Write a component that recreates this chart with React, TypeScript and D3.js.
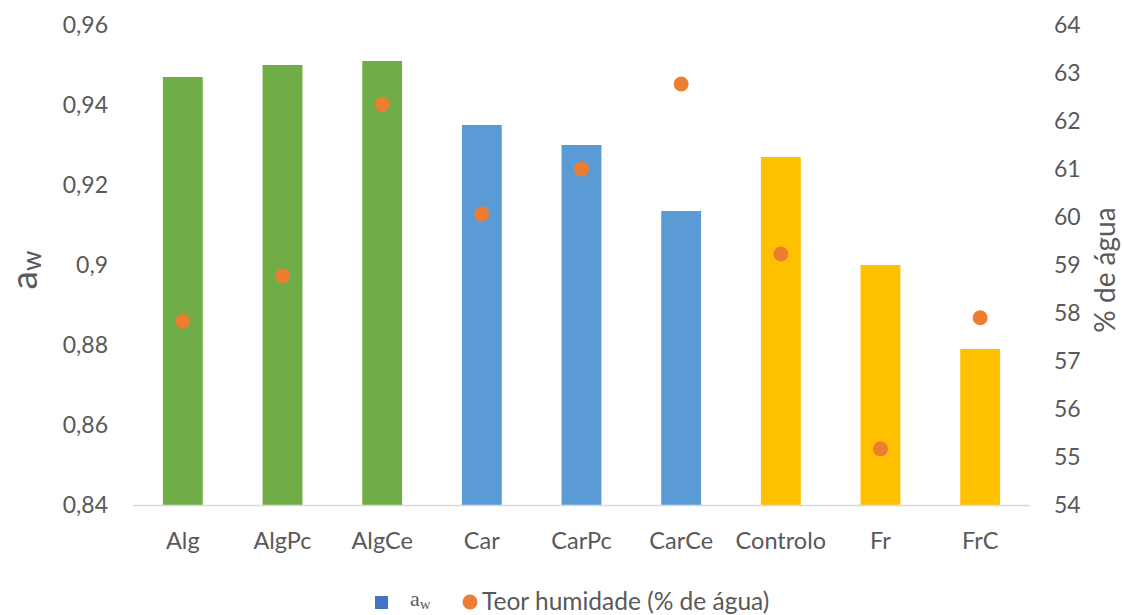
import * as d3 from "d3";
import { useEffect, useRef } from "react";

const categories = ["Alg", "AlgPc", "AlgCe", "Car", "CarPc", "CarCe", "Controlo", "Fr", "FrC"];
const awValues = [0.947, 0.95, 0.951, 0.935, 0.93, 0.9135, 0.927, 0.9, 0.879];
const moisture = [57.83, 58.77, 62.35, 60.06, 61.0, 62.77, 59.23, 55.17, 57.9];
const barColors = ["#70AD47", "#70AD47", "#70AD47", "#5B9BD5", "#5B9BD5", "#5B9BD5", "#FFC000", "#FFC000", "#FFC000"];
const leftTicks = [0.84, 0.86, 0.88, 0.9, 0.92, 0.94, 0.96];
const rightTicks = [54, 55, 56, 57, 58, 59, 60, 61, 62, 63, 64];

const W = 1124;
const H = 615;
const FONT = "Lato, 'Open Sans', sans-serif";
const GREY = "#595959";

export default function App() {
  const ref = useRef<SVGSVGElement>(null);

  useEffect(() => {
    const svg = d3.select(ref.current);
    svg.selectAll("*").remove();

    const x = d3.scaleBand<string>().domain(categories).range([133, 1030]).paddingInner(0.6).paddingOuter(0.3);
    const yL = d3.scaleLinear().domain([0.84, 0.96]).range([505, 25]);
    const yR = d3.scaleLinear().domain([54, 64]).range([505, 25]);

    svg
      .append("g")
      .selectAll("rect")
      .data(categories)
      .join("rect")
      .attr("x", (d) => x(d)!)
      .attr("width", x.bandwidth())
      .attr("y", (_, i) => yL(awValues[i]))
      .attr("height", (_, i) => yL(0.84) - yL(awValues[i]))
      .attr("fill", (_, i) => barColors[i]);

    svg
      .append("line")
      .attr("x1", 133)
      .attr("x2", 1030)
      .attr("y1", yL(0.84) + 0.5)
      .attr("y2", yL(0.84) + 0.5)
      .attr("stroke", "#D9D9D9")
      .attr("stroke-width", 1.5);

    svg
      .append("g")
      .selectAll("circle")
      .data(categories)
      .join("circle")
      .attr("cx", (d) => x(d)! + x.bandwidth() / 2)
      .attr("cy", (_, i) => yR(moisture[i]))
      .attr("r", 7.5)
      .attr("fill", "#ED7D31");

    const fmt = (v: number) => String(+v.toFixed(2)).replace(".", ",");

    svg
      .append("g")
      .selectAll("text")
      .data(leftTicks)
      .join("text")
      .attr("x", 108)
      .attr("y", (d) => yL(d))
      .attr("dy", "0.36em")
      .attr("text-anchor", "end")
      .attr("font-family", FONT)
      .attr("font-size", 23)
      .attr("fill", GREY)
      .text(fmt);

    svg
      .append("g")
      .selectAll("text")
      .data(rightTicks)
      .join("text")
      .attr("x", 1054)
      .attr("y", (d) => yR(d))
      .attr("dy", "0.36em")
      .attr("text-anchor", "start")
      .attr("font-family", FONT)
      .attr("font-size", 23)
      .attr("fill", GREY)
      .text((d) => String(d));

    svg
      .append("g")
      .selectAll("text")
      .data(categories)
      .join("text")
      .attr("x", (d) => x(d)! + x.bandwidth() / 2)
      .attr("y", 549)
      .attr("text-anchor", "middle")
      .attr("font-family", FONT)
      .attr("font-size", 23.5)
      .attr("fill", GREY)
      .text((d) => d);

    // axis titles
    const lt = svg
      .append("text")
      .attr("transform", `translate(37,270) rotate(-90)`)
      .attr("text-anchor", "middle")
      .attr("font-family", FONT)
      .attr("font-size", 37)
      .attr("fill", GREY);
    lt.append("tspan").text("a");
    lt.append("tspan").attr("font-size", 26).attr("dy", 4).text("w");

    svg
      .append("text")
      .attr("transform", `translate(1115,270) rotate(-90)`)
      .attr("text-anchor", "middle")
      .attr("font-family", FONT)
      .attr("font-size", 28)
      .attr("fill", GREY)
      .text("% de água");

    // legend
    const lg = svg.append("g");
    lg.append("rect").attr("x", 375).attr("y", 596).attr("width", 13).attr("height", 13).attr("fill", "#4472C4");
    const la = lg
      .append("text")
      .attr("x", 410)
      .attr("y", 606)
      .attr("font-family", "'Liberation Serif', serif")
      .attr("font-size", 22)
      .attr("fill", GREY);
    la.append("tspan").text("a");
    la.append("tspan").attr("font-size", 15).attr("dy", 3).text("w");
    lg.append("circle").attr("cx", 470).attr("cy", 602).attr("r", 7.5).attr("fill", "#ED7D31");
    lg.append("text")
      .attr("x", 482)
      .attr("y", 610)
      .attr("font-family", FONT)
      .attr("font-size", 24.5)
      .attr("fill", GREY)
      .text("Teor humidade (% de água)");
  }, []);

  return (
    <svg
      ref={ref}
      width={W}
      height={H}
      style={{ position: "absolute", left: 0, top: 0, background: "#fff" }}
    />
  );
}
